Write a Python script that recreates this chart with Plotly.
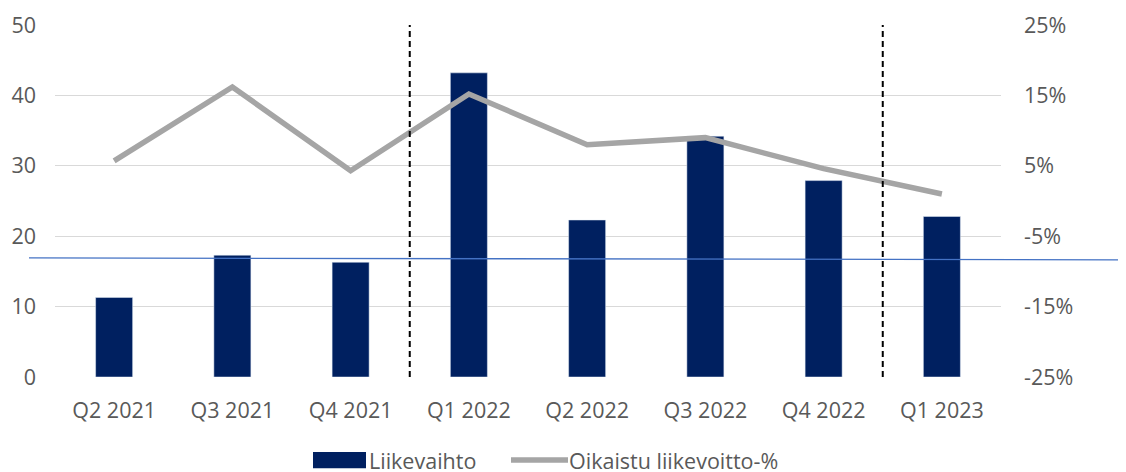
import plotly.graph_objects as go

quarters = ["Q2 2021", "Q3 2021", "Q4 2021", "Q1 2022", "Q2 2022", "Q3 2022", "Q4 2022", "Q1 2023"]
liikevaihto = [11.3, 17.3, 16.3, 43.2, 22.3, 34.2, 27.9, 22.8]
liikevoitto_pct = [0.057, 0.162, 0.043, 0.152, 0.080, 0.090, 0.046, 0.010]
pct_ticks = [-0.25, -0.15, -0.05, 0.05, 0.15, 0.25]
pct_labels = ["-25%", "-15%", "-5%", "5%", "15%", "25%"]
divider_after = ["Q4 2021", "Q4 2022"]
ref_line = (16.92, 16.64)

NAVY = "#002060"
GREY = "#A5A5A5"
TXT = "#595959"
FONT = "Open Sans"
FS = 21.5

fig = go.Figure()
fig.add_trace(go.Bar(
	x=quarters, y=liikevaihto, name="Liikevaihto",
	marker_color=NAVY, width=0.313, showlegend=False,
))
fig.add_trace(go.Scatter(
	x=quarters, y=liikevoitto_pct, name="Oikaistu liikevoitto-%", yaxis="y2",
	mode="lines", line=dict(color=GREY, width=5.5), showlegend=False,
))

# dashed dividers between periods
for q in divider_after:
	i = quarters.index(q) + 0.5
	fig.add_shape(type="line", xref="x", yref="y", x0=i, x1=i, y0=0, y1=51.5,
		line=dict(color="black", width=2, dash="6px,4px"), layer="above")

# thin blue line across the chart
fig.add_shape(type="line", xref="paper", yref="y",
	x0=-0.0275, x1=1.14, y0=ref_line[0], y1=ref_line[1],
	line=dict(color="#4472C4", width=1.3), layer="above")

# custom legend
fig.add_shape(type="rect", xref="paper", yref="paper",
	x0=(313 - 55) / 946, x1=(366 - 55) / 946, y0=-0.213, y1=-0.259,
	fillcolor=NAVY, line_width=0)
fig.add_annotation(xref="paper", yref="paper", x=(367 - 55) / 946, y=-0.236,
	text="Liikevaihto", showarrow=False, xanchor="left", yanchor="middle",
	font=dict(family=FONT, size=FS, color=TXT))
fig.add_shape(type="line", xref="paper", yref="paper",
	x0=(511 - 55) / 946, x1=(568 - 55) / 946, y0=-0.236, y1=-0.236,
	line=dict(color=GREY, width=5.5))
fig.add_annotation(xref="paper", yref="paper", x=(567 - 55) / 946, y=-0.236,
	text="Oikaistu liikevoitto-%", showarrow=False, xanchor="left", yanchor="middle",
	font=dict(family=FONT, size=FS, color=TXT))

# page has an 8px body margin, so the figure is shifted accordingly
fig.update_layout(
	width=1118, height=464,
	margin=dict(l=47, r=125, t=17, b=95, autoexpand=False),
	plot_bgcolor="white", paper_bgcolor="white",
	font=dict(family=FONT, size=FS, color=TXT),
	xaxis=dict(showgrid=False, showline=False, ticks="", ticklabelstandoff=18,
		automargin=False, range=[-0.5, len(quarters) - 0.5]),
	yaxis=dict(range=[0, 50], dtick=10, showgrid=True, gridcolor="#D9D9D9", gridwidth=1.3,
		zeroline=False, showline=False, ticklabelstandoff=18, automargin=False),
	yaxis2=dict(range=[-0.25, 0.25], overlaying="y", side="right", showgrid=False,
		zeroline=False, tickvals=pct_ticks, ticktext=pct_labels, ticklabelstandoff=22,
		automargin=False),
	showlegend=False,
)

fig.write_html("out.html")
